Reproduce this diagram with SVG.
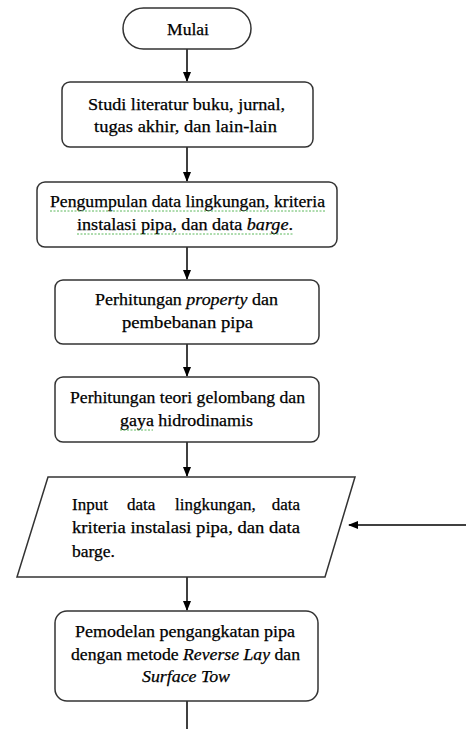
<svg xmlns="http://www.w3.org/2000/svg" width="466" height="729" viewBox="0 0 466 729">
<style>
.n{fill:#fff;stroke:#333;stroke-width:1.5}
.t{font-size:17px;fill:#000;stroke:#000;stroke-width:0.25;text-anchor:middle}
.j{text-anchor:start}
.c{fill:none;stroke:#000;stroke-width:1.5}
.sq{fill:none;stroke:#5cb85c;stroke-width:1;stroke-dasharray:2 1.5}
</style>
<defs>
<marker id="a" markerWidth="10" markerHeight="10" refX="9" refY="5" orient="auto" markerUnits="userSpaceOnUse">
<path d="M0,1 L10,5 L0,9 Z" fill="#000"/>
</marker>
</defs>
<rect width="466" height="729" fill="#fff"/>
<g id="connectors">
<line class="c" x1="187" y1="49" x2="187" y2="81" marker-end="url(#a)"/>
<line class="c" x1="187" y1="147" x2="187" y2="181" marker-end="url(#a)"/>
<line class="c" x1="187" y1="247" x2="187" y2="279" marker-end="url(#a)"/>
<line class="c" x1="187" y1="344" x2="187" y2="376" marker-end="url(#a)"/>
<line class="c" x1="187" y1="442" x2="187" y2="476" marker-end="url(#a)"/>
<line class="c" x1="187" y1="577" x2="187" y2="610" marker-end="url(#a)"/>
<line class="c" x1="187" y1="701" x2="187" y2="729"/>
<line class="c" x1="466" y1="525" x2="349" y2="525" marker-end="url(#a)"/>
</g>
<g font-family="'Liberation Serif', 'DejaVu Serif', serif">
<g id="mulai">
<rect class="n" x="123" y="8" width="128" height="41" rx="20.5"/>
<text class="t" x="188" y="35" textLength="42" lengthAdjust="spacingAndGlyphs">Mulai</text>
</g>
<g id="studi">
<rect class="n" x="62" y="82" width="251" height="65" rx="8"/>
<text class="t" x="186.5" y="110" textLength="197" lengthAdjust="spacingAndGlyphs">Studi literatur buku, jurnal,</text>
<text class="t" x="185.5" y="132" textLength="183" lengthAdjust="spacingAndGlyphs">tugas akhir, dan lain-lain</text>
</g>
<g id="pengumpulan">
<rect class="n" x="37" y="182" width="300" height="65" rx="8"/>
<text class="t" x="187.5" y="207" textLength="275" lengthAdjust="spacingAndGlyphs">Pengumpulan data lingkungan, kriteria</text>
<text class="t" x="185" y="230" textLength="216" lengthAdjust="spacingAndGlyphs">instalasi pipa, dan data <tspan font-style="italic">barge</tspan>.</text>
<path class="sq" d="M50,211 H325 M77,234 H293"/>
</g>
<g id="property">
<rect class="n" x="55" y="280" width="264" height="64" rx="8"/>
<text class="t" x="186.5" y="305" textLength="183" lengthAdjust="spacingAndGlyphs">Perhitungan <tspan font-style="italic">property</tspan> dan</text>
<text class="t" x="187.5" y="328" textLength="131" lengthAdjust="spacingAndGlyphs">pembebanan pipa</text>
</g>
<g id="gelombang">
<rect class="n" x="55" y="377" width="264" height="65" rx="8"/>
<text class="t" x="187.5" y="403" textLength="235" lengthAdjust="spacingAndGlyphs">Perhitungan teori gelombang dan</text>
<text class="t" x="186.5" y="426" textLength="133" lengthAdjust="spacingAndGlyphs">gaya hidrodinamis</text>
<path class="sq" d="M120,430 H153"/>
</g>
<g id="input">
<polygon class="n" points="48,477 355,477 325,577 17,577"/>
<text class="t j" y="510"><tspan x="72">Input</tspan> <tspan x="127">data</tspan> <tspan x="175">lingkungan,</tspan> <tspan x="300" text-anchor="end">data</tspan></text>
<text class="t j" x="72" y="533" textLength="228" lengthAdjust="spacingAndGlyphs">kriteria instalasi pipa, dan data</text>
<text class="t j" x="72" y="557" textLength="43" lengthAdjust="spacingAndGlyphs">barge.</text>
</g>
<g id="pemodelan">
<rect class="n" x="55" y="611" width="263" height="90" rx="12"/>
<text class="t" x="185" y="637" textLength="220" lengthAdjust="spacingAndGlyphs">Pemodelan pengangkatan pipa</text>
<text class="t" x="185.5" y="660" textLength="229" lengthAdjust="spacingAndGlyphs">dengan metode <tspan font-style="italic">Reverse Lay</tspan> dan</text>
<text class="t" x="186" y="682" font-style="italic" textLength="88" lengthAdjust="spacingAndGlyphs">Surface Tow</text>
</g>
</g>
</svg>
